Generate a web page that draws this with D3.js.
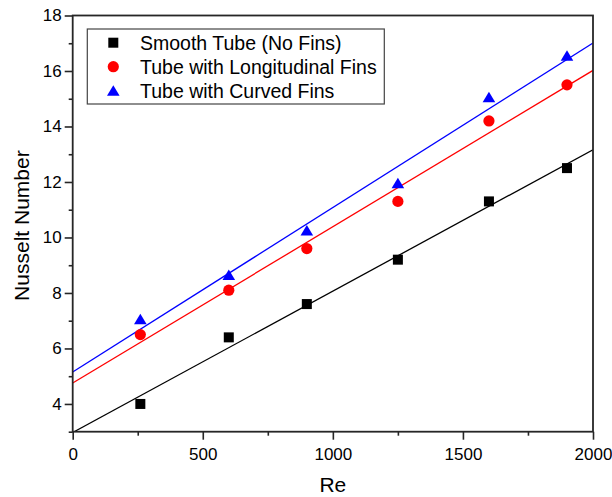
<!DOCTYPE html>
<html>
<head>
<meta charset="utf-8">
<script src="https://cdn.jsdelivr.net/npm/d3@7"></script>
<style>
  html, body { margin: 0; padding: 0; background: #fff; }
  svg { display: block; font-family: "Liberation Sans", Arial, sans-serif; }
</style>
</head>
<body>
<svg id="chart" width="612" height="497"></svg>
<script>
// ---- data ----
const reynolds = [260, 600, 900, 1250, 1600, 1900];
const smoothTube = [4.0, 6.4, 7.6, 9.2, 11.3, 12.5];
const longitudinalFins = [6.5, 8.1, 9.6, 11.3, 14.2, 15.5];
const curvedFins = [7.05, 8.65, 10.25, 11.95, 15.05, 16.55];
const seriesNames = ["Smooth Tube (No Fins)", "Tube with Longitudinal Fins", "Tube with Curved Fins"];
const seriesColors = ["#000000", "#ff0000", "#0000ff"];
const seriesSymbols = ["square", "circle", "triangle"];
const xTicks = [0, 500, 1000, 1500, 2000];
const xMinorTicks = [250, 750, 1250, 1750];
const yTicks = [4, 6, 8, 10, 12, 14, 16, 18];
const yMinorTicks = [3, 5, 7, 9, 11, 13, 15, 17];
const xDomain = [0, 2000];
const yDomain = [3, 18];

const series = [smoothTube, longitudinalFins, curvedFins].map((vals, i) => ({
  name: seriesNames[i], color: seriesColors[i], symbol: seriesSymbols[i],
  points: reynolds.map((x, j) => ({ x, y: vals[j] }))
}));

// ---- layout ----
const svg = d3.select("#chart");
const plot = { left: 72.7, right: 593, top: 15.5, bottom: 431.7 };
const x = d3.scaleLinear().domain(xDomain).range([plot.left, plot.right]);
const y = d3.scaleLinear().domain(yDomain).range([plot.bottom, plot.top]);

svg.append("defs").append("clipPath").attr("id", "clip")
  .append("rect").attr("x", plot.left).attr("y", plot.top)
  .attr("width", plot.right - plot.left).attr("height", plot.bottom - plot.top);

// least-squares fit lines
function fit(pts) {
  const mx = d3.mean(pts, d => d.x), my = d3.mean(pts, d => d.y);
  const sxy = d3.sum(pts, d => (d.x - mx) * (d.y - my));
  const sxx = d3.sum(pts, d => (d.x - mx) ** 2);
  const b = sxy / sxx, a = my - b * mx;
  return xDomain.map(xv => ({ x: xv, y: a + b * xv }));
}
const line = d3.line().x(d => x(d.x)).y(d => y(d.y));
const gLines = svg.append("g").attr("clip-path", "url(#clip)");
series.forEach(s => {
  gLines.append("path").attr("d", line(fit(s.points)))
    .attr("fill", "none").attr("stroke", s.color).attr("stroke-width", 1.3);
});

// symbols
function drawSymbol(g, type, cx, cy, color) {
  if (type === "square") {
    g.append("rect").attr("x", cx - 5).attr("y", cy - 5).attr("width", 10).attr("height", 10).attr("fill", color);
  } else if (type === "circle") {
    g.append("circle").attr("cx", cx).attr("cy", cy).attr("r", 5.6).attr("fill", color);
  } else {
    g.append("path").attr("d", `M${cx},${cy - 5.5}L${cx + 6.3},${cy + 5}L${cx - 6.3},${cy + 5}Z`).attr("fill", color);
  }
}
const gPts = svg.append("g");
series.forEach(s => {
  s.points.forEach(p => drawSymbol(gPts, s.symbol, x(p.x), y(p.y), s.color));
});

// axes
const axisColor = "#262626";
const xAxis = svg.append("g").attr("transform", `translate(0,${plot.bottom})`)
  .call(d3.axisBottom(x).tickValues(xTicks).tickSize(8).tickPadding(8).tickFormat(d3.format("d")));
const xMinor = svg.append("g").attr("transform", `translate(0,${plot.bottom})`)
  .call(d3.axisBottom(x).tickValues(xMinorTicks).tickSize(4).tickFormat(""));
const yAxis = svg.append("g").attr("transform", `translate(${plot.left},0)`)
  .call(d3.axisLeft(y).tickValues(yTicks).tickSize(8).tickPadding(3).tickFormat(d3.format("d")));
const yMinor = svg.append("g").attr("transform", `translate(${plot.left},0)`)
  .call(d3.axisLeft(y).tickValues(yMinorTicks).tickSize(4).tickFormat(""));
[xAxis, xMinor, yAxis, yMinor].forEach(g => {
  g.select(".domain").remove();
  g.selectAll("line").attr("stroke", axisColor).attr("stroke-width", 1.6);
  g.selectAll("text").attr("fill", "#000").style("font-size", "17px")
    .style("font-family", "'Liberation Sans', Arial, sans-serif");
});

// frame
svg.append("rect").attr("x", plot.left).attr("y", plot.top)
  .attr("width", plot.right - plot.left).attr("height", plot.bottom - plot.top)
  .attr("fill", "none").attr("stroke", axisColor).attr("stroke-width", 1.8);

// axis titles
svg.append("text").attr("x", (plot.left + plot.right) / 2).attr("y", 492)
  .attr("text-anchor", "middle").style("font-size", "21px").attr("fill", "#000").text("Re");
svg.append("text").attr("transform", `translate(28.5,${(plot.top + plot.bottom) / 2 + 2}) rotate(-90)`)
  .attr("text-anchor", "middle").style("font-size", "21px").attr("fill", "#000").text("Nusselt Number");

// legend
const lg = svg.append("g");
lg.append("rect").attr("x", 87.3).attr("y", 29).attr("width", 297).attr("height", 75)
  .attr("fill", "#fff").attr("stroke", "#444").attr("stroke-width", 1.2);
series.forEach((s, i) => {
  const cy = 42.7 + i * 24;
  drawSymbol(lg, s.symbol, 113.3, cy, s.color);
  lg.append("text").attr("x", 140).attr("y", cy + 6.8).style("font-size", "19.5px")
    .attr("fill", "#000").text(s.name);
});
</script>
</body>
</html>
